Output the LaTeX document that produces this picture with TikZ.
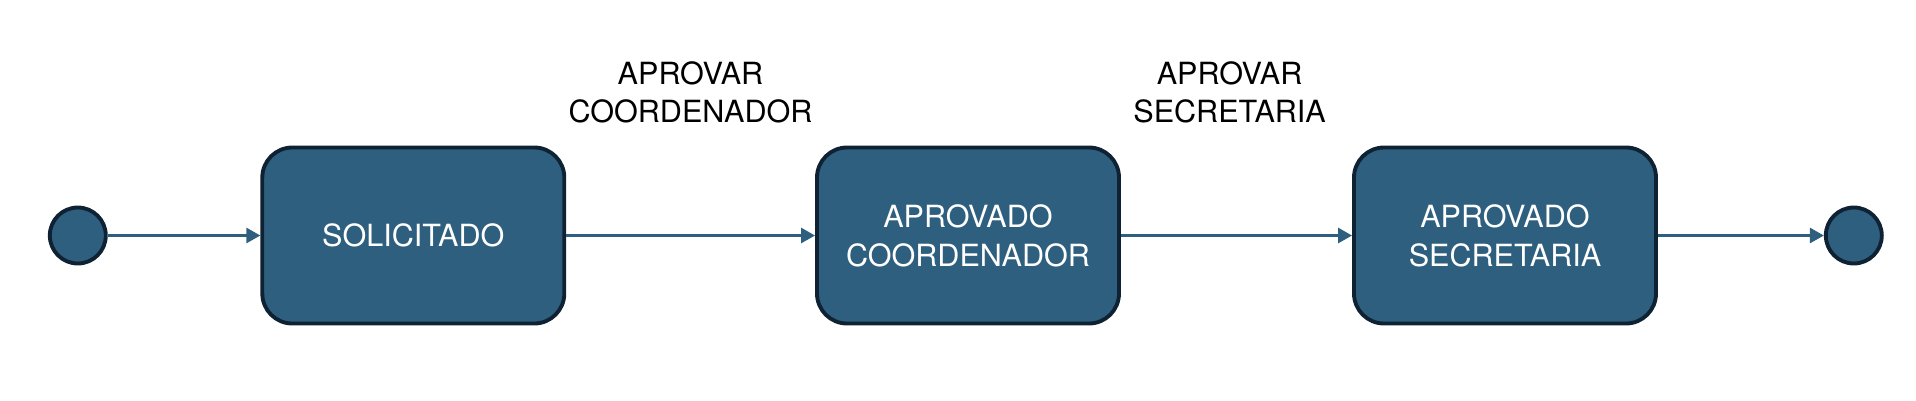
\documentclass[tikz,border=0pt]{standalone}
\usepackage{fontspec}
\setmainfont{TeX Gyre Heros}
\usetikzlibrary{arrows.meta}

\definecolor{stateblue}{HTML}{2E5F7F}
\definecolor{statedark}{HTML}{0E2233}

\tikzset{
    state/.style={draw=statedark, fill=stateblue, line width=1.1pt, rounded corners=0.3cm,
        minimum width=3.02cm, minimum height=1.76cm, text=white, align=center,
        font=\fontsize{8.7}{11.1}\selectfont},
    pseudo/.style={circle, draw=statedark, fill=stateblue, line width=1.1pt,
        minimum size=0.56cm, inner sep=0pt},
    trans/.style={draw=stateblue, line width=0.8pt, -{Triangle[length=0.14cm, width=0.15cm]}},
    translabel/.style={align=center, font=\fontsize{8.7}{10.9}\selectfont}
}

\begin{document}
\begin{tikzpicture}
    % 1. Canvas
    \useasboundingbox (0,0) rectangle (19.16,4);

    % 2. States
    \node[pseudo] (start) at (0.778, 1.645) {};
    \node[state] (solicitado) at (4.133, 1.645) {SOLICITADO};
    \node[state] (coord) at (9.68, 1.645) {APROVADO\\COORDENADOR};
    \node[state] (secret) at (15.05, 1.645) {APROVADO\\SECRETARIA};
    \node[pseudo] (end) at (18.538, 1.645) {};

    % 3. Transitions
    \draw[trans] (start) -- (solicitado);
    \draw[trans] (solicitado) -- (coord);
    \draw[trans] (coord) -- (secret);
    \draw[trans] (secret) -- (end);

    % 4. Labels
    \node[translabel] (lblcoord) at (6.905, 3.08) {APROVAR\\COORDENADOR};
    \node[translabel] (lblsecret) at (12.296, 3.08) {APROVAR\\SECRETARIA};

\end{tikzpicture}
\end{document}
